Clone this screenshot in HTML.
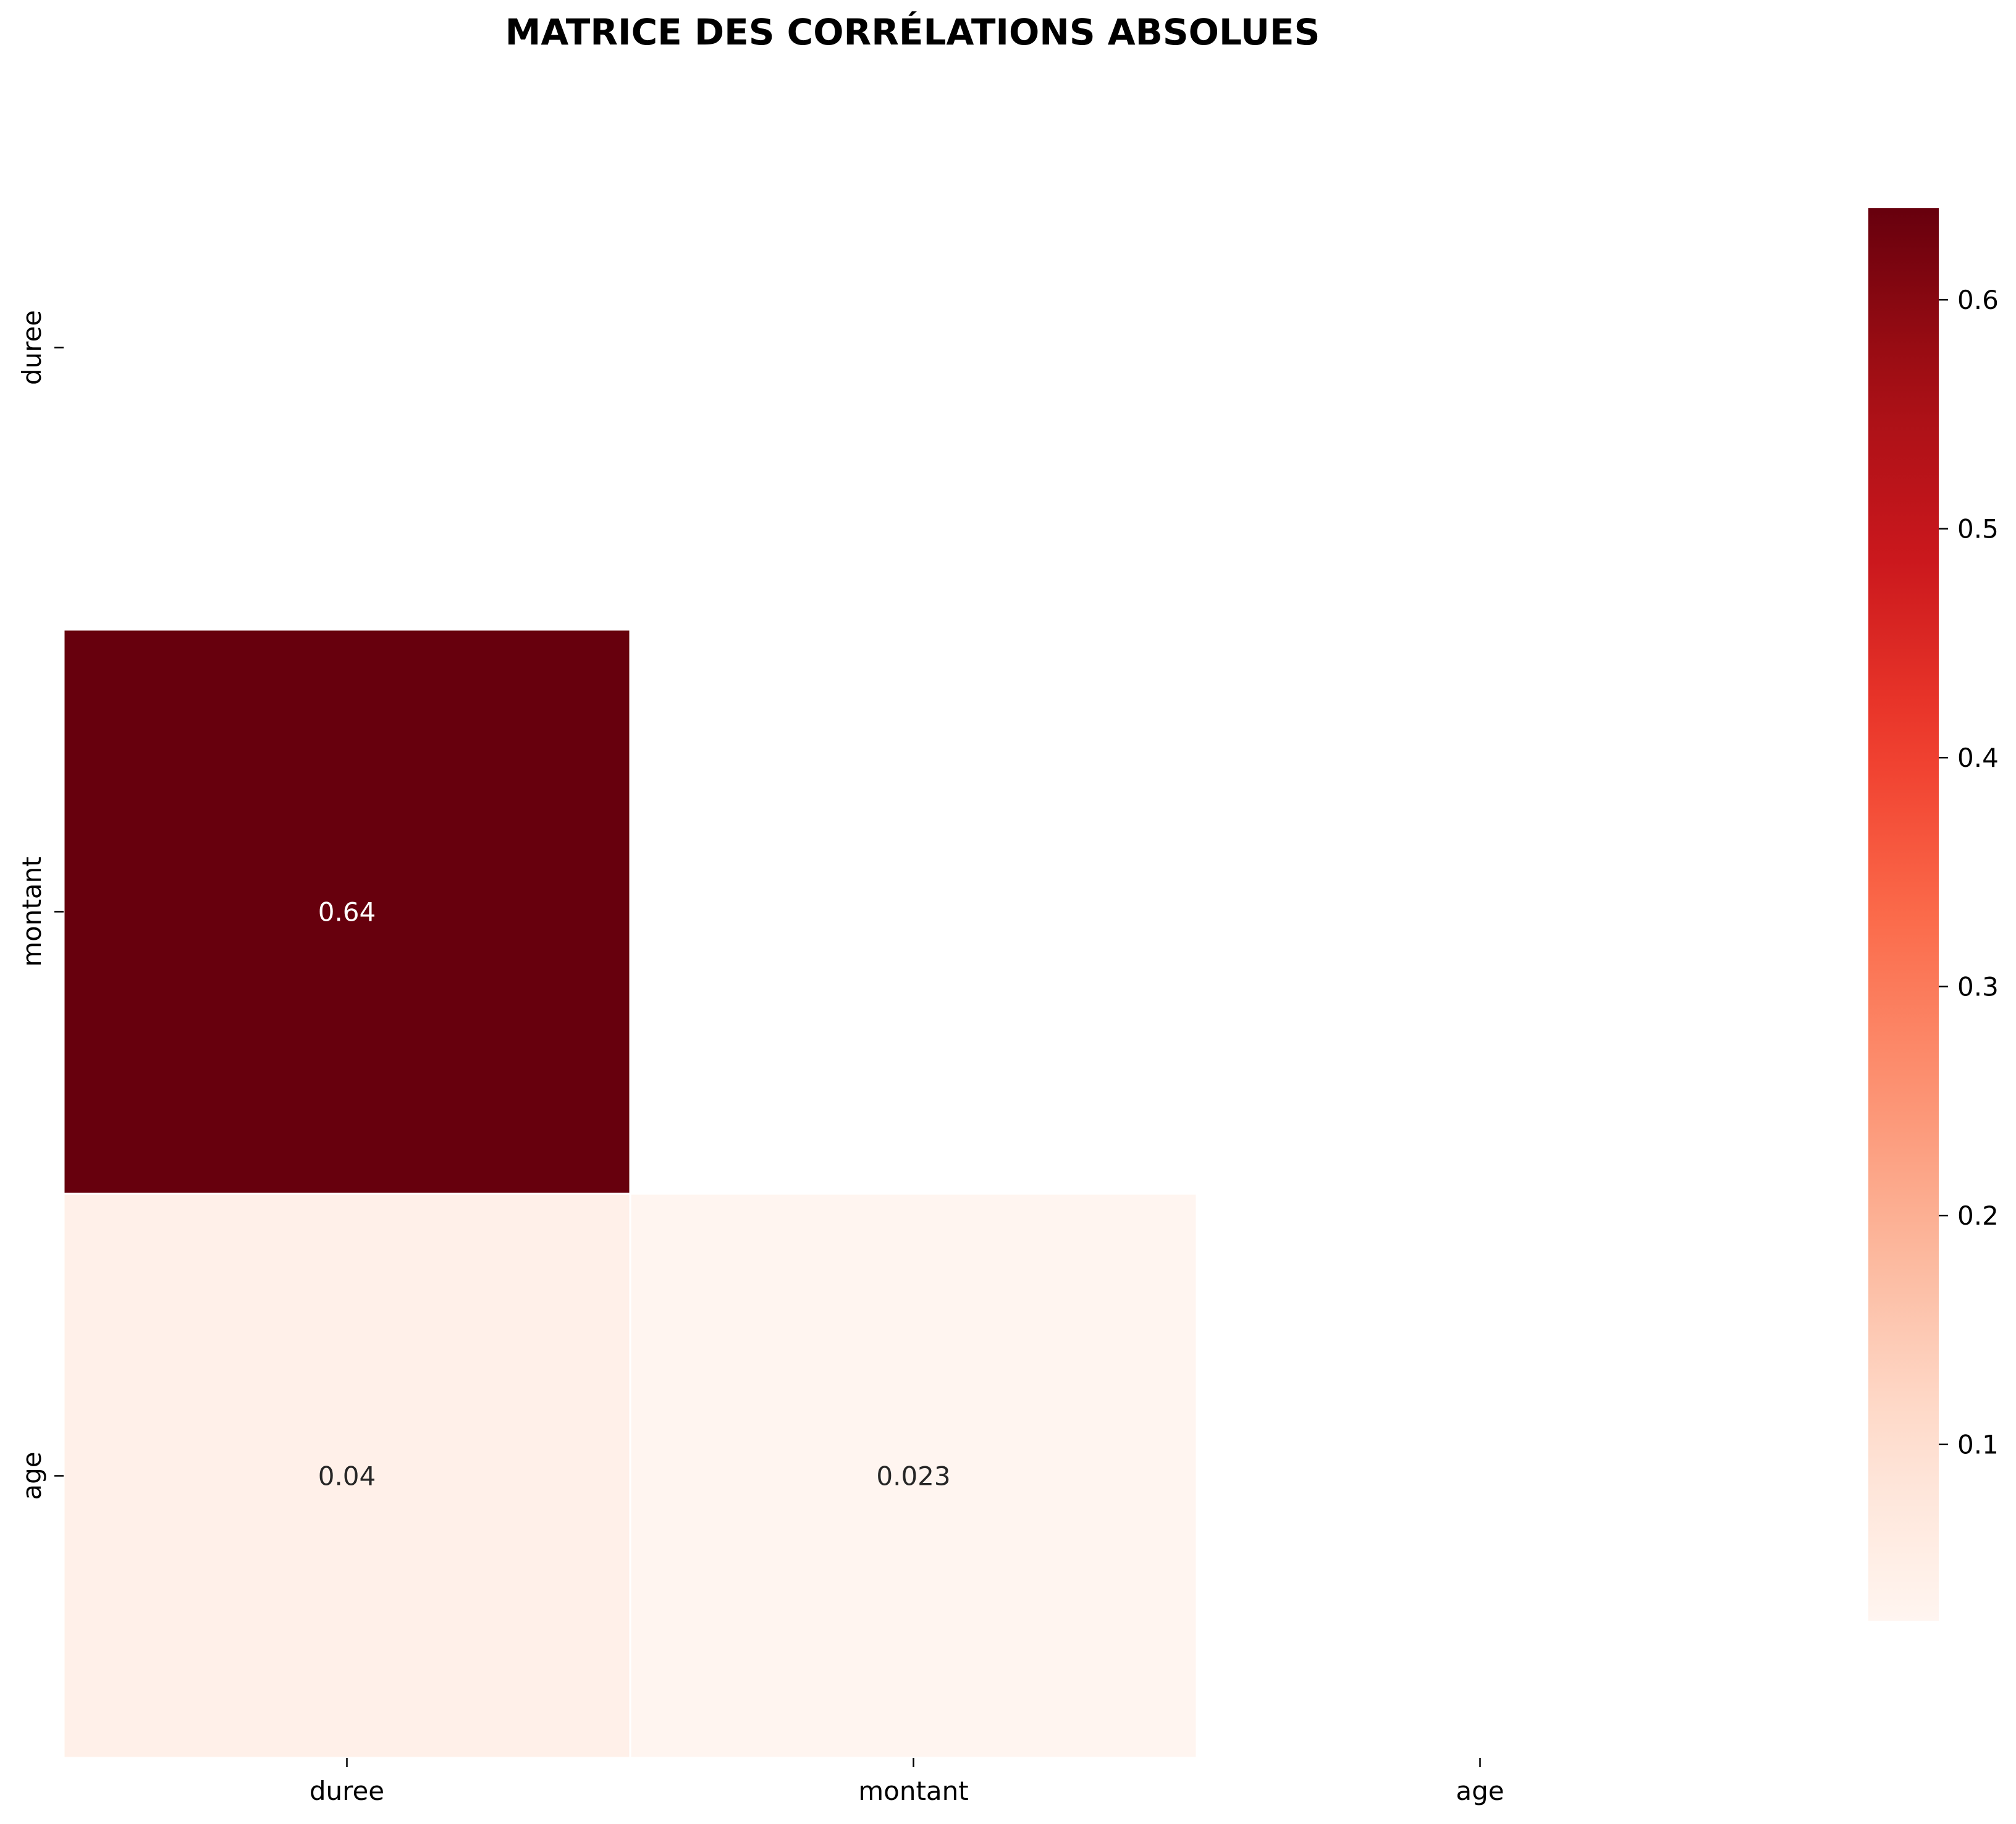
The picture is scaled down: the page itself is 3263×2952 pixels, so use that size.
<!DOCTYPE html>
<html><head><meta charset="utf-8"><style>body{margin:0;background:#fff}svg{display:block}</style></head>
<body>
<svg id="c" width="3263" height="2952" xmlns="http://www.w3.org/2000/svg" font-family="DejaVu Sans, Liberation Sans, sans-serif">
<text x="1477" y="72" text-anchor="middle" font-size="58" font-weight="bold">MATRICE DES CORRÉLATIONS ABSOLUES</text>
<defs><linearGradient id="cbg" x1="0" y1="1" x2="0" y2="0"></linearGradient></defs>
<g id="cells"></g><g id="axes"></g><g id="cbar"></g>
</svg>
<script>
const labels = ["duree","montant","age"];
const cellRows = [1,2,2];
const cellCols = [0,0,1];
const cellValues = [0.64,0.04,0.023];
const cbTicks = [0.1,0.2,0.3,0.4,0.5,0.6];
const vmin = 0.023, vmax = 0.64;
const NS="http://www.w3.org/2000/svg";
const stops=["#fff5f0","#fee0d2","#fcbba1","#fc9272","#fb6a4a","#ef3b2c","#cb181d","#a50f15","#67000d"];
function hex(h){return [1,3,5].map(i=>parseInt(h.substr(i,2),16));}
function reds(t){t=Math.max(0,Math.min(1,t));const p=t*8,i=Math.min(7,Math.floor(p)),f=p-i;const a=hex(stops[i]),b=hex(stops[i+1]);return "rgb("+a.map((v,k)=>Math.round(v+(b[k]-v)*f)).join(",")+")";}
function norm(v){return (v-vmin)/(vmax-vmin);}
const X0=103,Y0=106,CW=917,CH=913;
const xs=i=>X0+i*CW, ys=i=>Y0+i*CH;
function el(tag,attrs,parent,txt){const e=document.createElementNS(NS,tag);for(const k in attrs)e.setAttribute(k,attrs[k]);if(txt!==undefined)e.textContent=txt;parent.appendChild(e);return e;}
const cells=document.getElementById("cells");
cellValues.forEach((v,i)=>{
  const r=el("rect",{x:xs(cellCols[i]),y:ys(cellRows[i]),width:CW,height:CH,fill:reds(norm(v)),stroke:"#fff","stroke-width":3},cells);
  
  
  const t=el("text",{x:xs(cellCols[i])+CW/2,y:ys(cellRows[i])+CH/2+15,"text-anchor":"middle","font-size":42,fill:norm(v)>0.5?"#fff":"#262626"},cells,String(v));
  
  
});
const axes=document.getElementById("axes");
labels.forEach((l,i)=>{
  const cy=ys(i)+CH/2, cx=xs(i)+CW/2;
  const tk=el("line",{x1:X0-15,x2:X0,y1:cy,y2:cy,stroke:"#000","stroke-width":2.5},axes);
  
  
  const yl=el("text",{x:0,y:0,transform:"translate(66,"+cy+") rotate(-90)","text-anchor":"middle","font-size":42},axes,l);
  
  
  const tx=el("line",{x1:cx,x2:cx,y1:Y0+3*CH,y2:Y0+3*CH+15,stroke:"#000","stroke-width":2.5},axes);
  
  
  const xl=el("text",{x:cx,y:2913,"text-anchor":"middle","font-size":42},axes,l);
  
  
});
const g=document.getElementById("cbg");
for(let k=0;k<=20;k++){el("stop",{offset:k/20,"stop-color":reds(k/20)},g);}
const cb=document.getElementById("cbar");
const CBX=3024,CBW=114,CBT=337,CBB=2623;
const cy=v=>CBB-(v-vmin)/(vmax-vmin)*(CBB-CBT);
const bar=el("rect",{x:CBX,y:CBT,width:CBW,height:CBB-CBT,fill:"url(#cbg)"},cb);


cbTicks.forEach(v=>{
  const y=cy(v);
  const l=el("line",{x1:CBX+CBW,x2:CBX+CBW+15,y1:y,y2:y,stroke:"#000","stroke-width":2.5},cb);
  
  
  const t=el("text",{x:CBX+CBW+30,y:y+15,"font-size":42},cb,v.toFixed(1));
  
  
});
</script>
</body></html>
